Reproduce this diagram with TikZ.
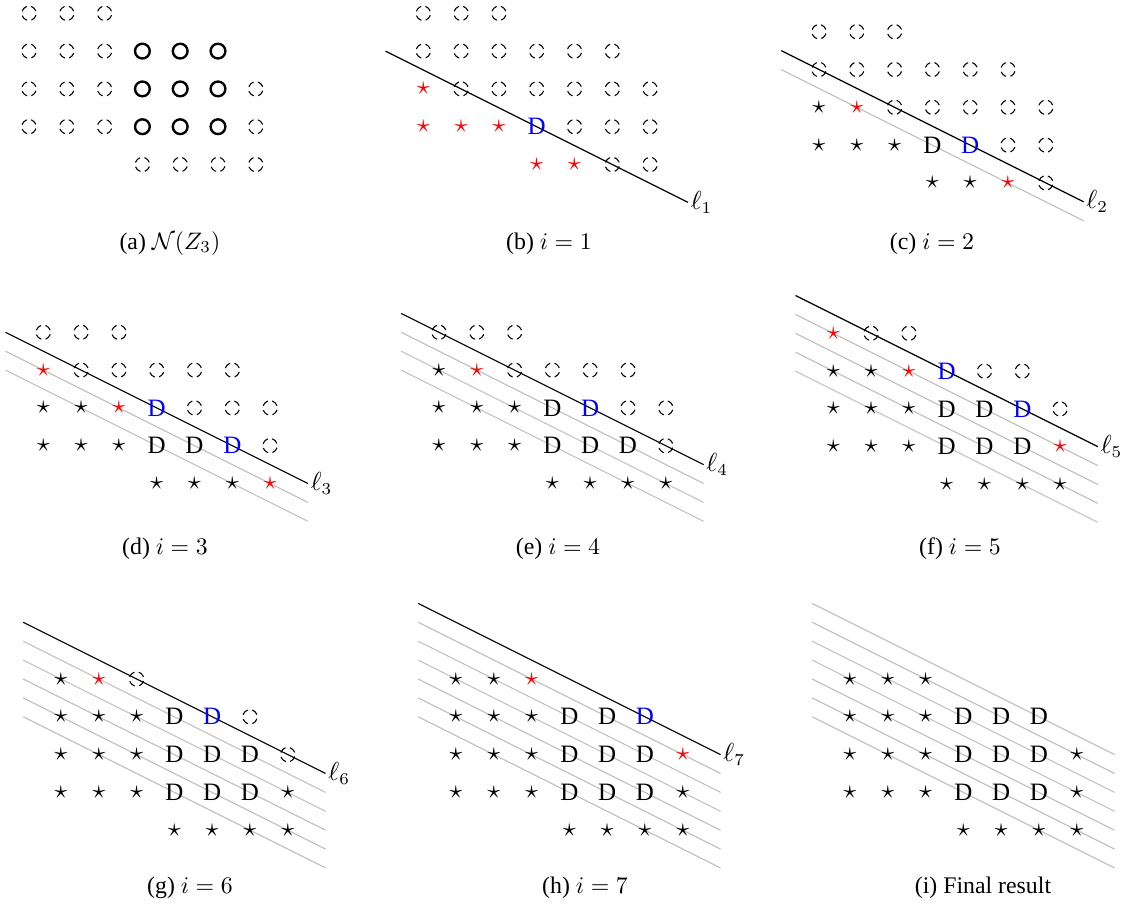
\documentclass[tikz,border=0pt]{standalone}
\usepackage[no-math]{fontspec}
\setmainfont{Liberation Serif}
\newcommand\symxo{}
\newcommand\symxc{}
\newcommand\symxs{$\star$}
\newcommand\symxr{$\star$}
\newcommand\symxd{D}
\newcommand\symxb{D}
\tikzset{
  grid cell/.style={inner sep=0pt, font=\fontsize{10.5}{12}\selectfont},
  xo/.style={grid cell, circle, draw, minimum size=6pt, line width=0.45pt, dash pattern=on 2.9pt off 1.81pt, dash phase=3.8pt},
  xc/.style={grid cell, circle, draw, minimum size=6.2pt, line width=1pt},
  xs/.style={grid cell},
  xr/.style={grid cell, text=red},
  xd/.style={grid cell},
  xb/.style={grid cell, text=blue},
  sweepold/.style={black!25, line width=0.45pt},
  sweepnew/.style={black, line width=0.5pt},
  sweeplab/.style={anchor=west, inner sep=1pt, font=\fontsize{10.5}{12}\selectfont},
  subcap/.style={anchor=base, inner sep=0pt, font=\fontsize{10}{12}\selectfont},
}
\newcommand\gridpanel[8]{%
  \begin{scope}[shift={(#2,#3)}]
    \foreach \ty [count=\kk from 0] in {#4} {\node[\ty] (#1-0-\kk) at (\kk*37.8,0) {\csname sym\ty\endcsname};}
    \foreach \ty [count=\kk from 0] in {#5} {\node[\ty] (#1-1-\kk) at (\kk*37.8,37.8) {\csname sym\ty\endcsname};}
    \foreach \ty [count=\kk from 0] in {#6} {\node[\ty] (#1-2-\kk) at (\kk*37.8,75.6) {\csname sym\ty\endcsname};}
    \foreach \ty [count=\kk from 0] in {#7} {\node[\ty] (#1-3-\kk) at (\kk*37.8,113.4) {\csname sym\ty\endcsname};}
    \foreach \ty [count=\kk from 3] in {#8} {\node[\ty] (#1-4-\kk) at (\kk*37.8,151.2) {\csname sym\ty\endcsname};}
  \end{scope}}
\newcommand\sweepline[5]{%
  \coordinate (#1-s#4) at ({#2-37.8},{#3+(3-#4)*18.9});
  \coordinate (#1-e#4) at ({#2+7*37.8},{#3+(11-#4)*18.9});
  \draw[#5] (#1-s#4) -- (#1-e#4);}
\begin{document}
\begin{tikzpicture}[x=0.42pt,y=-0.42pt]
\useasboundingbox (0,0) rectangle (1129,905);

% (a)
\gridpanel{a}{29}{13.3}{xo,xo,xo}{xo,xo,xo,xc,xc,xc}{xo,xo,xo,xc,xc,xc,xo}{xo,xo,xo,xc,xc,xc,xo}{xo,xo,xo,xo}
\node[subcap] (capa) at (170,249) {(a) $\mathcal{N}(Z_3)$};

% (b)
\sweepline{b}{423.3}{13.3}{1}{sweepnew}
\node[sweeplab] (b-lab) at (b-e1) {$\ell_1$};
\gridpanel{b}{423.3}{13.3}{xo,xo,xo}{xo,xo,xo,xo,xo,xo}{xr,xo,xo,xo,xo,xo,xo}{xr,xr,xr,xb,xo,xo,xo}{xr,xr,xo,xo}
\node[subcap] (capb) at (549,249) {(b) $i=1$};

% (c)
\foreach \jj in {1} {\sweepline{c}{819}{31.7}{\jj}{sweepold}}
\sweepline{c}{819}{31.7}{2}{sweepnew}
\node[sweeplab] (c-lab) at (c-e2) {$\ell_2$};
\gridpanel{c}{819}{31.7}{xo,xo,xo}{xo,xo,xo,xo,xo,xo}{xs,xr,xo,xo,xo,xo,xo}{xs,xs,xs,xd,xb,xo,xo}{xs,xs,xr,xo}
\node[subcap] (capc) at (932,249) {(c) $i=2$};

% (d)
\foreach \jj in {1,2} {\sweepline{d}{43.3}{332.3}{\jj}{sweepold}}
\sweepline{d}{43.3}{332.3}{3}{sweepnew}
\node[sweeplab] (d-lab) at (d-e3) {$\ell_3$};
\gridpanel{d}{43.3}{332.3}{xo,xo,xo}{xr,xo,xo,xo,xo,xo}{xs,xs,xr,xb,xo,xo,xo}{xs,xs,xs,xd,xd,xb,xo}{xs,xs,xs,xr}
\node[subcap] (capd) at (165,554) {(d) $i=3$};

% (e)
\foreach \jj in {1,2,3} {\sweepline{e}{439}{332.3}{\jj}{sweepold}}
\sweepline{e}{439}{332.3}{4}{sweepnew}
\node[sweeplab] (e-lab) at (e-e4) {$\ell_4$};
\gridpanel{e}{439}{332.3}{xo,xo,xo}{xs,xr,xo,xo,xo,xo}{xs,xs,xs,xd,xb,xo,xo}{xs,xs,xs,xd,xd,xd,xo}{xs,xs,xs,xs}
\node[subcap] (cape) at (558,554) {(e) $i=4$};

% (f)
\foreach \jj in {1,...,4} {\sweepline{f}{833.3}{333.3}{\jj}{sweepold}}
\sweepline{f}{833.3}{333.3}{5}{sweepnew}
\node[sweeplab] (f-lab) at (f-e5) {$\ell_5$};
\gridpanel{f}{833.3}{333.3}{xr,xo,xo}{xs,xs,xr,xb,xo,xo}{xs,xs,xs,xd,xd,xb,xo}{xs,xs,xs,xd,xd,xd,xr}{xs,xs,xs,xs}
\node[subcap] (capf) at (960,554) {(f) $i=5$};

% (g)
\foreach \jj in {1,...,5} {\sweepline{g}{61}{679}{\jj}{sweepold}}
\sweepline{g}{61}{679}{6}{sweepnew}
\node[sweeplab] (g-lab) at (g-e6) {$\ell_6$};
\gridpanel{g}{61}{679}{xs,xr,xo}{xs,xs,xs,xd,xb,xo}{xs,xs,xs,xd,xd,xd,xo}{xs,xs,xs,xd,xd,xd,xs}{xs,xs,xs,xs}
\node[subcap] (capg) at (190,893) {(g) $i=6$};

% (h)
\foreach \jj in {1,...,6} {\sweepline{h}{456}{679}{\jj}{sweepold}}
\sweepline{h}{456}{679}{7}{sweepnew}
\node[sweeplab] (h-lab) at (h-e7) {$\ell_7$};
\gridpanel{h}{456}{679}{xs,xs,xr}{xs,xs,xs,xd,xd,xb}{xs,xs,xs,xd,xd,xd,xr}{xs,xs,xs,xd,xd,xd,xs}{xs,xs,xs,xs}
\node[subcap] (caph) at (585,893) {(h) $i=7$};

% (i)
\foreach \jj in {1,...,7} {\sweepline{i}{850}{679}{\jj}{sweepold}}
\gridpanel{i}{850}{679}{xs,xs,xs}{xs,xs,xs,xd,xd,xd}{xs,xs,xs,xd,xd,xd,xs}{xs,xs,xs,xd,xd,xd,xs}{xs,xs,xs,xs}
\node[subcap] (capi) at (983,893) {(i) Final result};
\end{tikzpicture}
\end{document}
